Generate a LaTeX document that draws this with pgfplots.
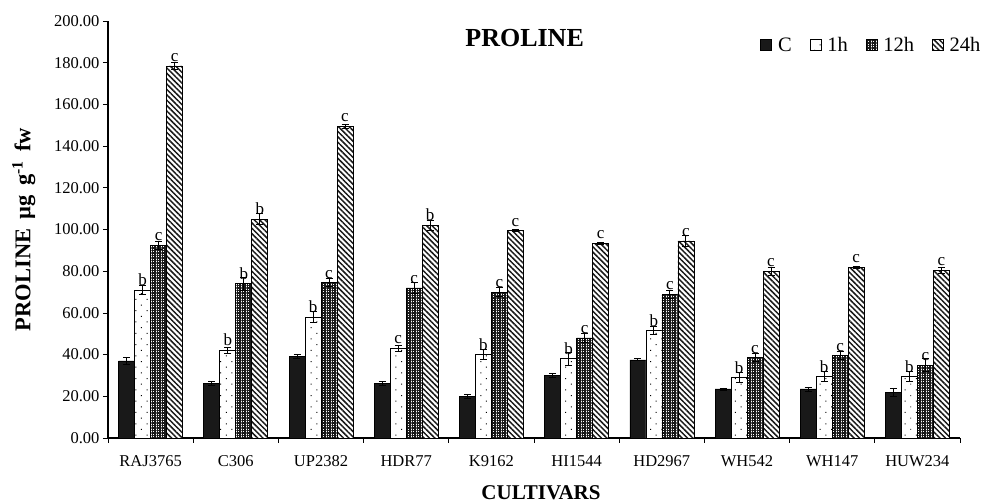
\documentclass[border=0pt]{standalone}
\usepackage{pgfplots}
\pgfplotsset{compat=1.18}
\usepackage{pgfplotstable}
\usetikzlibrary{patterns.meta}
\usepackage{fontspec}
\setmainfont{Liberation Serif}

\pgfplotstableread{
x y e
0 37 1.8
1 26 1.0
2 39 1.0
3 26 1.0
4 20 1.0
5 30 1.0
6 37.5 0.5
7 23.5 0.5
8 23.5 1.0
9 22 2.0
}\tabC
\pgfplotstableread{
x y e l
0 71 2 b
1 42 1.5 b
2 58 2.5 b
3 43 1.5 c
4 40 2.5 b
5 38 3 b
6 51.5 2 b
7 29 2.5 b
8 29.5 2.5 b
9 29.5 2.5 b
}\tabA
\pgfplotstableread{
x y e l
0 92.5 2 c
1 74 3 b
2 74.5 2 c
3 72 2.5 c
4 70 2 c
5 48 2 c
6 69 2 c
7 38.5 2 c
8 39.5 2 c
9 35 3 c
}\tabB
\pgfplotstableread{
x y e l
0 178.5 1.5 c
1 105 2.5 b
2 149.5 0.8 c
3 102 2.5 b
4 99.5 0.5 c
5 93.5 0.5 c
6 94.5 2.5 c
7 80 2 c
8 82 0.5 c
9 80.5 1.5 c
}\tabD

\begin{document}
\begin{tikzpicture}
\begin{axis}[
  scale only axis, width=852pt, height=417pt,
  ybar=0pt, bar width=16pt,
  xmin=-0.5, xmax=9.5, ymin=0, ymax=200,
  axis lines=left, axis line style={-, line width=1.4pt},
  xtick={0,...,9},
  xticklabels={RAJ3765,C306,UP2382,HDR77,K9162,HI1544,HD2967,WH542,WH147,HUW234},
  minor xtick={-0.5,0.5,...,9.5},
  ytick={0,20,...,200},
  tick align=outside,
  major x tick style={draw=none},
  minor tick length=5pt, major tick length=5pt,
  tick style={black, line width=0.7pt},
  xticklabel style={font=\fontsize{16.5}{19}\selectfont, yshift=-9pt},
  yticklabel style={font=\fontsize{16.5}{19}\selectfont,
    /pgf/number format/.cd, fixed, fixed zerofill, precision=2, assume math mode=true},
  xlabel={\textbf{CULTIVARS}},
  xlabel style={font=\fontsize{21}{24}\selectfont, xshift=7pt, yshift=-12pt},
  ylabel={\textbf{PROLINE \,µg\, g\textsuperscript{-1}\, fw}},
  ylabel style={font=\fontsize{22.5}{26}\selectfont, yshift=12pt},
  legend style={draw=none, fill=none, at={(rel axis cs:0.762,0.942)}, anchor=west,
    font=\fontsize{20.5}{23}\selectfont, legend columns=4,
    /tikz/every odd column/.append style={column sep=4pt},
    /tikz/every even column/.append style={column sep=16pt}},
  legend image code/.code={\draw[#1, line width=0.6pt] (0pt,-5.5pt) rectangle (11pt,5.5pt);},
  error bars/y dir=both, error bars/y explicit,
  error bars/error bar style={black, line width=0.8pt},
  error bars/error mark options={black, rotate=90, mark size=3.5pt, line width=0.8pt},
  nodes near coords style={font=\fontsize{17}{19}\selectfont, anchor=south, inner sep=0pt, yshift=4pt},
  clip=false,
]
\addplot[draw=black, line width=0.6pt, fill=black!90] table[x=x,y=y,y error=e]{\tabC};
\addplot[draw=black, line width=0.6pt, fill=white, postaction={pattern={Dots[distance=8pt, angle=45, radius=0.7pt]}, pattern color=black},
  point meta=explicit symbolic, nodes near coords] table[x=x,y=y,y error=e,meta=l]{\tabA};
\addplot[draw=black, line width=0.6pt, fill=white, postaction={pattern={Hatch[angle=0, distance=2.5pt, line width=1.6pt]}, pattern color=black!90},
  point meta=explicit symbolic, nodes near coords] table[x=x,y=y,y error=e,meta=l]{\tabB};
\addplot[draw=black, line width=0.6pt, fill=white, postaction={pattern={Lines[angle=-45, distance=3.8pt, line width=1.5pt]}, pattern color=black!90},
  point meta=explicit symbolic, nodes near coords] table[x=x,y=y,y error=e,meta=l]{\tabD};
\legend{C,1h,12h,24h}
\node[font=\fontsize{26}{30}\selectfont\bfseries] at (rel axis cs:0.489,0.958) {PROLINE};
\coordinate (bl) at (rel axis cs:0,0);
\coordinate (tr) at (rel axis cs:1,1);
\end{axis}
\pgfresetboundingbox
\path[use as bounding box] ([xshift=-108pt,yshift=-65pt]bl) rectangle ([xshift=24pt,yshift=21pt]tr);
\end{tikzpicture}
\end{document}
